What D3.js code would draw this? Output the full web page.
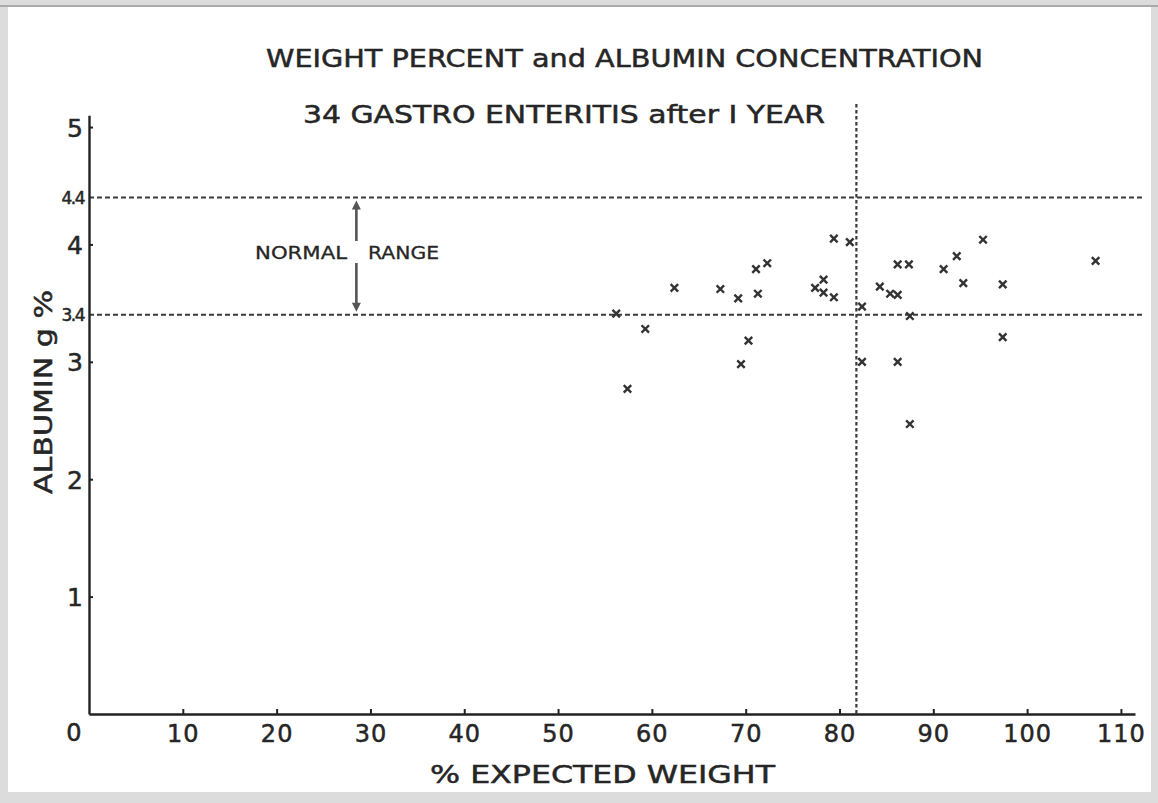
<!DOCTYPE html>
<html>
<head>
<meta charset="utf-8">
<script src="https://cdn.jsdelivr.net/npm/d3@7"></script>
<style>
  body { margin: 0; background: #fff; }
  text { font-family: "DejaVu Sans", sans-serif; fill: #262626; stroke: #262626; stroke-width: 0.5px; }
</style>
</head>
<body>
<svg id="chart" width="1158" height="803"></svg>
<script>
// % expected weight vs albumin g%, 34 cases
var weightPct = [56.2, 57.4, 59.3, 62.4, 67.3, 69.2, 69.5, 70.3, 71.1, 71.3,
                 72.3, 77.4, 78.3, 78.3, 79.4, 79.4, 81.1, 82.4, 82.4, 84.3,
                 85.4, 86.2, 86.2, 86.2, 87.4, 87.5, 87.5, 91.1, 92.5, 93.2,
                 95.3, 97.4, 97.4, 107.3];
var albumin   = [3.41, 2.77, 3.28, 3.63, 3.62, 3.54, 2.98, 3.18, 3.79, 3.58,
                 3.84, 3.63, 3.70, 3.59, 3.55, 4.05, 4.02, 3.47, 3.00, 3.64,
                 3.58, 3.57, 3.83, 3.00, 3.83, 3.39, 2.47, 3.79, 3.90, 3.67,
                 4.04, 3.66, 3.21, 3.86];

var xTicks = [10, 20, 30, 40, 50, 60, 70, 80, 90, 100, 110];
var yTicks = [1, 2, 3, 4, 5];
var normalRange = [3.4, 4.4];
var weightCut = 81.8;

var svg = d3.select("#chart");

// scanned paper edges
svg.append("rect").attr("width", 1158).attr("height", 803).attr("fill", "#dcdcdc");
svg.append("rect").attr("x", 8).attr("y", 7).attr("width", 1143).attr("height", 785).attr("fill", "#fff");
svg.append("line").attr("x1", 0).attr("x2", 1158).attr("y1", 6).attr("y2", 6)
    .attr("stroke", "#9a9a9a").attr("stroke-width", 1.5);

var x = d3.scaleLinear().domain([0, 111.5]).range([89, 1135]);
var y = d3.scaleLinear().domain([0, 5.1]).range([714, 115.3]);

// reference lines
svg.selectAll(".range-line")
    .data(normalRange)
    .enter().append("line")
    .attr("class", "range-line")
    .attr("x1", x(0)).attr("x2", 1142)
    .attr("y1", d => y(d)).attr("y2", d => y(d))
    .attr("stroke", "#3a3a3a").attr("stroke-width", 2)
    .attr("stroke-dasharray", "5,3");

svg.append("line")
    .attr("x1", x(weightCut)).attr("x2", x(weightCut))
    .attr("y1", 104).attr("y2", y(0))
    .attr("stroke", "#3a3a3a").attr("stroke-width", 2.2)
    .attr("stroke-dasharray", "3.5,2.5");

// axes
var xAxis = svg.append("g")
    .attr("transform", "translate(0," + y(0) + ")")
    .call(d3.axisBottom(x).tickValues(xTicks).tickSizeInner(-5).tickSizeOuter(0).tickPadding(11));

var yAxis = svg.append("g")
    .attr("transform", "translate(" + x(0) + ",0)")
    .call(d3.axisLeft(y).tickValues(yTicks).tickFormat(d3.format("d")).tickSizeInner(-4).tickSizeOuter(0).tickPadding(6));

var yMinor = svg.append("g")
    .attr("transform", "translate(" + x(0) + ",0)")
    .call(d3.axisLeft(y).tickValues(normalRange).tickFormat(d3.format(".1f")).tickSizeInner(0).tickSizeOuter(0).tickPadding(5));
yMinor.select(".domain").remove();

[xAxis, yAxis, yMinor].forEach(function (g) {
    g.select(".domain").attr("stroke", "#222").attr("stroke-width", 2.4);
    g.selectAll(".tick line").attr("stroke", "#222").attr("stroke-width", 2);
    g.selectAll("text").attr("fill", "#262626").style("font-family", '"DejaVu Sans", sans-serif');
});
xAxis.selectAll("text").style("font-size", "24px").style("letter-spacing", "1px");
yAxis.selectAll("text").style("font-size", "25px").attr("dy", "0.36em");
yMinor.selectAll("text").style("font-size", "17px").style("letter-spacing", "-1.5px").attr("dy", "0.36em");

// origin label sits left of the axis
svg.append("text")
    .attr("x", 74).attr("y", 741)
    .attr("text-anchor", "middle")
    .style("font-size", "24px")
    .text("0");

// points
svg.selectAll(".pt")
    .data(weightPct)
    .enter().append("path")
    .attr("class", "pt")
    .attr("transform", (d, i) => "translate(" + x(d) + "," + y(albumin[i]) + ")")
    .attr("d", d3.symbol().type(d3.symbolX).size(38))
    .attr("stroke", "#333").attr("stroke-width", 2.4).attr("fill", "none");

// normal range annotation
var ax = x(28.5);
svg.append("text")
    .attr("x", 255).attr("y", 259)
    .attr("textLength", 92).attr("lengthAdjust", "spacingAndGlyphs")
    .style("font-size", "18px").style("stroke-width", "0.3px")
    .text("NORMAL");
svg.append("text")
    .attr("x", 368).attr("y", 259)
    .attr("textLength", 71).attr("lengthAdjust", "spacingAndGlyphs")
    .style("font-size", "18px").style("stroke-width", "0.3px")
    .text("RANGE");

svg.append("line")
    .attr("x1", ax).attr("x2", ax)
    .attr("y1", 241).attr("y2", y(4.4) + 9)
    .attr("stroke", "#555").attr("stroke-width", 2.6);
svg.append("path")
    .attr("d", "M" + (ax - 4.5) + "," + (y(4.4) + 12) + "L" + ax + "," + (y(4.4) + 3) + "L" + (ax + 4.5) + "," + (y(4.4) + 12) + "Z")
    .attr("fill", "#555");
svg.append("line")
    .attr("x1", ax).attr("x2", ax)
    .attr("y1", 263).attr("y2", y(3.4) - 9)
    .attr("stroke", "#555").attr("stroke-width", 2.6);
svg.append("path")
    .attr("d", "M" + (ax - 4.5) + "," + (y(3.4) - 12) + "L" + ax + "," + (y(3.4) - 3) + "L" + (ax + 4.5) + "," + (y(3.4) - 12) + "Z")
    .attr("fill", "#555");

// titles
svg.append("text")
    .attr("x", 266).attr("y", 67)
    .attr("textLength", 717).attr("lengthAdjust", "spacingAndGlyphs")
    .style("font-size", "25px")
    .text("WEIGHT  PERCENT  and  ALBUMIN  CONCENTRATION");

svg.append("text")
    .attr("x", 303).attr("y", 123)
    .attr("textLength", 522).attr("lengthAdjust", "spacingAndGlyphs")
    .style("font-size", "25px")
    .text("34 GASTRO ENTERITIS after I YEAR");

svg.append("text")
    .attr("x", 430).attr("y", 783)
    .attr("textLength", 345).attr("lengthAdjust", "spacingAndGlyphs")
    .style("font-size", "25px")
    .text("% EXPECTED WEIGHT");

svg.append("text")
    .attr("transform", "translate(52,494) rotate(-90)")
    .attr("textLength", 204).attr("lengthAdjust", "spacingAndGlyphs")
    .style("font-size", "25px")
    .text("ALBUMIN g %");
</script>
</body>
</html>
